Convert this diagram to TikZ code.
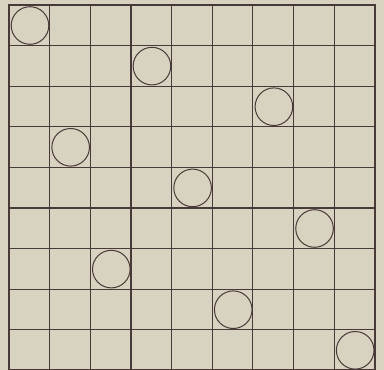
\documentclass[tikz,border=0pt]{standalone}
\usepackage{tikz}
\definecolor{paper}{RGB}{216,210,192}
\definecolor{ink}{RGB}{72,58,56}

\begin{document}
\begin{tikzpicture}[x=1pt,y=-1pt]
        \fill[paper] (0,0) rectangle (384,370);
        \useasboundingbox (0,0) rectangle (384,370);
        \foreach \i in {1,...,8}{
            \draw[ink,line width=1.1pt] ({9+40.65*\i},5) -- ({9+40.65*\i},370);
            \draw[ink,line width=1.1pt] (9,{5+40.6*\i}) -- (375,{5+40.6*\i});
        }
        \draw[ink,line width=2.4pt] (9,370) -- (9,5) -- (375,5) -- (375,370);
        \draw[ink,line width=1.2pt] (9,370) -- (375,370);
        \foreach \c/\r in {0/0, 3/1, 6/2, 1/3, 4/4, 7/5, 2/6, 5/7, 8/8}{
            \draw[ink,line width=1pt] ({9+40.65*\c+21},{5+40.6*\r+20.5}) circle (18.8);
        }
    \end{tikzpicture}
\end{document}
